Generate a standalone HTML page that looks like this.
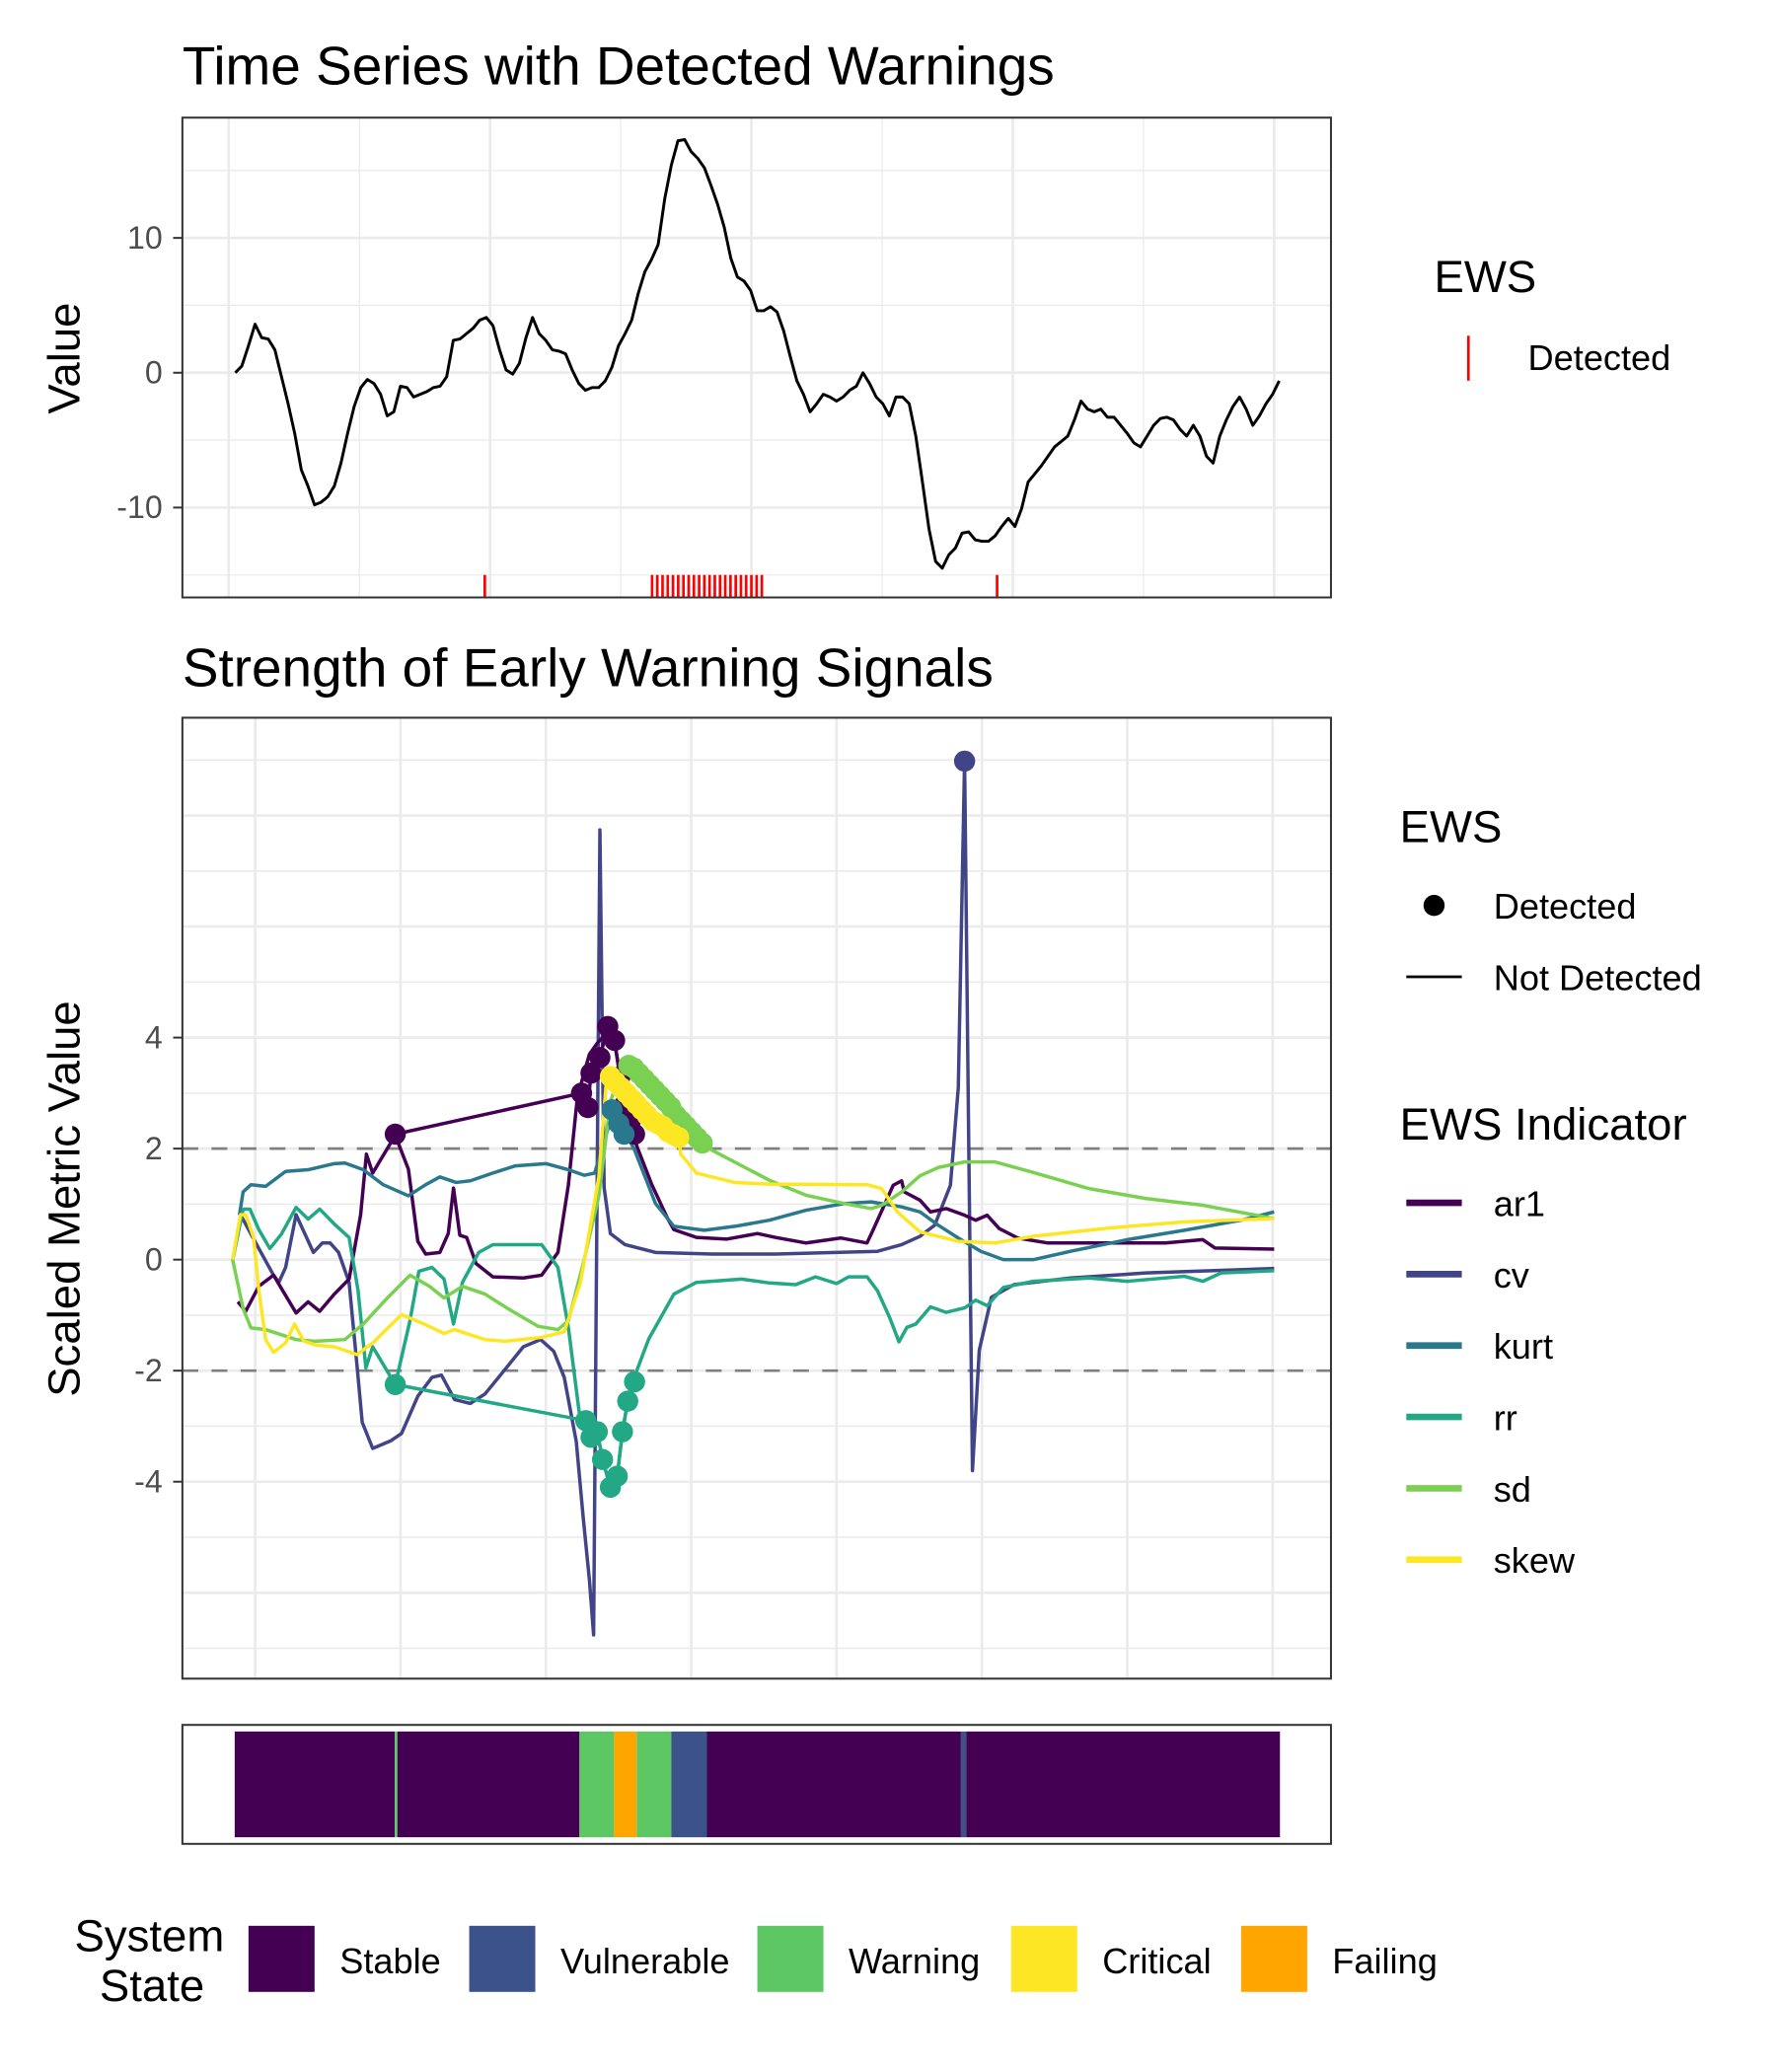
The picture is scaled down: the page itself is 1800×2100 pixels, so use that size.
<!DOCTYPE html>
<html><head><meta charset="utf-8"><style>
html,body{margin:0;padding:0;background:#fff;}
svg{display:block;font-family:"Liberation Sans",Arial,sans-serif;}
</style></head><body>
<svg id="chart" width="1800" height="2100" viewBox="0 0 1343.7 1567.6" preserveAspectRatio="none" xmlns="http://www.w3.org/2000/svg">
<rect x="0" y="0" width="1343.7" height="1567.6" fill="#fff"/>
<text x="138" y="64" font-size="41" fill="#000">Time Series with Detected Warnings</text>
<text x="138" y="519" font-size="41" fill="#000">Strength of Early Warning Signals</text>
<g id="topPanel"></g>
<g id="botPanel"></g>
<g id="stateBar"></g>
<text transform="translate(60,271) rotate(-90)" text-anchor="middle" font-size="34">Value</text>
<text transform="translate(60,907) rotate(-90)" text-anchor="middle" font-size="34">Scaled Metric Value</text>
<g>
<text x="1085" y="221" font-size="34">EWS</text>
<line x1="1111" y1="254" x2="1111" y2="288" stroke="#ff0000" stroke-width="2"/>
<text x="1156" y="280" font-size="27">Detected</text>
</g>
<g>
<text x="1059" y="637" font-size="34">EWS</text>
<circle cx="1085" cy="685" r="8" fill="#000"/>
<text x="1130" y="695" font-size="27">Detected</text>
<line x1="1064" y1="739" x2="1106" y2="739" stroke="#000" stroke-width="2"/>
<text x="1130" y="749" font-size="27">Not Detected</text>
<text x="1059" y="862" font-size="34">EWS Indicator</text>
</g>
<g id="indleg"></g>
<g id="stateleg">
<text font-size="34" text-anchor="middle"><tspan x="113" y="1476">System</tspan><tspan x="115" y="1514">State</tspan></text>
</g>
</svg>
<script>
// ---------- data ----------
const tsValue = [0,0.5,2.0,3.6,2.6,2.5,1.7,-0.3,-2.3,-4.5,-7.2,-8.4,-9.8,-9.6,-9.2,-8.4,-6.7,-4.5,-2.5,-1.1,-0.5,-0.8,-1.6,-3.2,-2.9,-1.0,-1.1,-1.8,-1.6,-1.4,-1.1,-1.0,-0.3,2.4,2.5,2.9,3.3,3.9,4.1,3.5,1.7,0.2,-0.1,0.7,2.6,4.1,2.9,2.4,1.7,1.6,1.4,0.2,-0.8,-1.3,-1.1,-1.1,-0.6,0.4,2.0,2.9,3.9,5.9,7.5,8.4,9.5,12.9,15.4,17.2,17.3,16.4,15.9,15.2,13.9,12.5,10.8,8.5,7.1,6.8,6.1,4.6,4.6,4.9,4.5,3.1,1.2,-0.6,-1.6,-2.9,-2.3,-1.6,-1.8,-2.1,-1.8,-1.3,-1.0,0,-0.8,-1.8,-2.3,-3.2,-1.8,-1.8,-2.3,-4.7,-8.1,-11.6,-14.0,-14.5,-13.5,-13.0,-11.9,-11.8,-12.4,-12.5,-12.5,-12.1,-11.4,-10.8,-11.4,-10.1,-8.1,-7.5,-6.9,-6.2,-5.5,-5.1,-4.7,-3.5,-2.1,-2.7,-2.9,-2.7,-3.3,-3.3,-3.9,-4.5,-5.2,-5.5,-4.7,-3.9,-3.4,-3.3,-3.5,-4.2,-4.7,-3.9,-4.7,-6.2,-6.7,-4.7,-3.5,-2.5,-1.8,-2.7,-3.9,-3.2,-2.3,-1.6,-0.6];
const tsTime = tsValue.map((_, i) => 1.26 + i * 1.264);
const warnTimes = [49,81,82,83,84,85,86,87,88,89,90,91,92,93,94,95,96,97,98,99,100,101,102,147];
const topYTicks = [-10,0,10];
const topYTickLabels = ["-10","0","10"];
const botYTicks = [-4,-2,0,2,4];
const botYTickLabels = ["-4","-2","0","2","4"];

const ar1T = [1.5,3,5.5,8.3,10,12.6,14.9,17.1,19.9,22.7,24.9,26,27.2,31.5,34,35.8,37.3,40,41.6,42.6,43.8,45.1,46.9,50.1,55.9,59.4,62.5,64.5,66.2,67.3,68.5,70,72,73.3,74.6,75.6,76.6,77.6,80.4,83.4,84.6,88.9,94.7,100.5,104,109.8,116.4,121.4,122.4,126.4,128,128.5,131.5,133.5,136.5,140,142.1,144.3,146.6,150.1,155.9,167.5,178.3,185.4,187.7,199];
const ar1V = [-0.76,-0.93,-0.48,-0.28,-0.55,-0.96,-0.76,-0.93,-0.62,-0.35,0.81,1.9,1.56,2.24,1.63,0.33,0.1,0.13,0.47,1.29,0.44,0.4,-0.07,-0.31,-0.33,-0.28,0.13,1.35,2.92,3.3,3.7,3.9,4.1,3.9,3.2,2.6,2.3,2.03,1.35,0.74,0.54,0.4,0.37,0.47,0.4,0.3,0.39,0.3,0.5,1.34,1.42,1.22,1.07,0.86,0.92,0.8,0.71,0.8,0.56,0.39,0.3,0.3,0.3,0.36,0.21,0.19];
const ar1DetT = [31.5,67.0,68.2,68.8,70.5,72.0,73.3,74.3,75.3,76.3,77.1];
const ar1DetV = [2.26,3.0,2.74,3.36,3.64,4.2,3.95,3.29,2.8,2.5,2.26];

const cvT = [2,5.5,8.3,9.3,10.6,12.6,15.9,17.6,19.1,20.7,22.7,24.2,25.2,27.2,30.7,32.7,35.8,38.5,40.3,42.8,45.8,48.6,52.4,55.9,59.2,61.7,63.7,66,67.3,68.5,69.3,70.5,71.3,72.5,75.3,81.1,91.9,104,123.4,128,131.5,134.3,137.3,138.8,140,140.8,141.5,142.8,145.1,149.4,160.2,174.6,199];
const cvV = [0.81,0.2,-0.28,-0.41,-0.14,0.81,0.13,0.3,0.3,0.13,-0.41,-1.9,-2.93,-3.4,-3.26,-3.13,-2.46,-2.12,-2.08,-2.52,-2.59,-2.42,-1.98,-1.57,-1.44,-1.65,-2.12,-3.28,-4.63,-5.77,-6.76,7.74,1.3,0.47,0.27,0.13,0.1,0.1,0.15,0.27,0.42,0.62,1.34,3.1,8.98,2,-3.8,-1.63,-0.68,-0.45,-0.33,-0.24,-0.16];
const cvDetT = [140];
const cvDetV = [8.98];

const kurtT = [1.8,2.5,4,6.8,10.6,14.9,19.9,21.9,25.4,29.2,34,37.3,40,43.1,45.8,50.1,54.4,60.2,64.5,67.5,69.5,71,72.8,74.6,77,81.1,84.6,90.4,96.2,102.8,109.8,117.1,122.2,128,131.5,135,138.8,143.1,147.4,153.1,160.2,171,181.9,192.7,199];
const kurtV = [0.8,1.22,1.35,1.32,1.59,1.62,1.73,1.74,1.62,1.35,1.15,1.35,1.49,1.39,1.42,1.56,1.69,1.73,1.62,1.52,1.56,2.03,2.6,2.4,2.0,1.01,0.6,0.53,0.6,0.71,0.89,1.01,1.04,0.95,0.86,0.62,0.39,0.15,0,0,0.15,0.36,0.53,0.71,0.86];
const kurtDetT = [72.8,74.1,75.1];
const kurtDetV = [2.7,2.45,2.26];

const rrT = [0.5,2.5,3.8,5.5,7.6,9.8,12.6,14.9,17.1,19.9,22.7,24.4,25.9,27.2,31.5,34.3,36,38.5,40.8,42.6,44.3,47.4,50.1,59.4,62.5,64.5,66.8,68.8,70,71,72.5,73.8,74.8,75.8,76.8,79.8,84.6,88.9,97.5,102.8,107.8,111.6,115.6,117.9,121.4,123.4,125.7,127.5,129,130.7,133.5,136.5,140,142.1,144.3,147.4,153.1,163.7,171,181.9,185.4,188.9,199];
const rrV = [-0.01,0.91,0.91,0.54,0.2,0.46,0.94,0.73,0.91,0.64,0.4,-0.55,-1.95,-1.57,-2.25,-1.1,-0.21,-0.14,-0.35,-1.16,-0.41,0.13,0.27,0.27,-0.14,-1.23,-2.93,-3.2,-3.1,-3.6,-4.1,-3.9,-3.1,-2.55,-2.18,-1.43,-0.62,-0.41,-0.35,-0.42,-0.45,-0.31,-0.43,-0.31,-0.31,-0.56,-1.04,-1.48,-1.22,-1.16,-0.85,-0.95,-0.87,-0.73,-0.83,-0.5,-0.39,-0.33,-0.39,-0.3,-0.39,-0.24,-0.2];
const rrDetT = [31.5,67.8,68.8,70,71,72.5,73.8,74.8,75.8,77.1];
const rrDetV = [-2.25,-2.9,-3.2,-3.1,-3.6,-4.1,-3.9,-3.1,-2.55,-2.2];

const sdT = [0.5,2.5,4,6.8,12.6,16.1,21.9,25.4,30,34.3,38,40.8,44.3,48.6,53.1,58.7,62.5,64.5,67.5,70.3,72.5,74.6,76,77,78,79,80,81,82,83,84,85,86,87,88,89,90,91.9,102.8,109.8,117.1,122.2,124.2,128,131.5,135,140,145.8,153.1,163.7,174.6,185.4,199];
const sdV = [0,-0.88,-1.23,-1.26,-1.44,-1.47,-1.44,-1.16,-0.69,-0.28,-0.48,-0.69,-0.48,-0.62,-0.89,-1.2,-1.26,-1.1,0,1.15,2.85,3.4,3.5,3.45,3.35,3.25,3.15,3.05,2.95,2.85,2.75,2.6,2.5,2.4,2.3,2.2,2.1,1.97,1.43,1.16,1.01,0.92,0.98,1.22,1.51,1.66,1.76,1.76,1.57,1.28,1.1,0.98,0.74];
const sdDetT = [76,77,78,79,80,81,82,83,84,85,86,87,88,89,90];
const sdDetV = [3.5,3.45,3.35,3.25,3.15,3.05,2.95,2.85,2.75,2.6,2.5,2.4,2.3,2.2,2.1];

const skewT = [0.5,2,3,4.5,5.5,6.8,8.3,10.6,12.3,14.1,16.4,19.9,24.2,27.2,32.7,37,40.8,42.8,48.6,52.4,59.4,63.7,66.8,70.3,71.8,72.5,73.5,74.5,75.5,76.5,77.5,78.5,79.5,80.5,81.5,82.5,83.5,84.5,85.5,85.9,88.9,96.2,102.8,121.4,124.2,127.2,131.5,138.8,145.8,153.1,167.5,181.9,199];
const skewV = [0,0.81,0.81,0.4,-0.55,-1.44,-1.67,-1.5,-1.16,-1.47,-1.54,-1.57,-1.71,-1.5,-0.99,-1.16,-1.33,-1.26,-1.44,-1.47,-1.4,-1.3,-0.41,1.49,3.3,3.3,3.2,3.1,3.0,2.9,2.8,2.7,2.6,2.5,2.45,2.4,2.3,2.25,2.2,1.9,1.56,1.39,1.36,1.35,1.28,0.86,0.5,0.33,0.3,0.42,0.57,0.68,0.74];
const skewDetT = [72.5,73.5,74.5,75.5,76.5,77.5,78.5,79.5,80.5,81.5,82.5,83.5,84.5,85.5];
const skewDetV = [3.3,3.2,3.1,3.0,2.9,2.8,2.7,2.6,2.5,2.45,2.4,2.3,2.25,2.2];

const segStart = [0.9,31.4,31.9,66.6,73.2,77.5,84.1,90.9,139.3,140.3];
const segEnd   = [31.4,31.9,66.6,73.2,77.5,84.1,90.9,139.3,140.3,200.1];
const segState = ["Stable","Warning","Stable","Warning","Failing","Warning","Vulnerable","Stable","Vulnerable","Stable"];
const stateNames = ["Stable","Vulnerable","Warning","Critical","Failing"];
const indicatorNames = ["ar1","cv","kurt","rr","sd","skew"];

// ---------- styling ----------
const stateColor = {Stable:"#440154",Vulnerable:"#3B528B",Warning:"#5DC863",Critical:"#FDE725",Failing:"#FFA500"};
const indColor = {ar1:"#440154",cv:"#414487",kurt:"#2A788E",rr:"#22A884",sd:"#7AD151",skew:"#FDE725"};
const NS="http://www.w3.org/2000/svg";
function mk(tag, attrs, parent){const e=document.createElementNS(NS,tag);for(const k in attrs)e.setAttribute(k,attrs[k]);parent.appendChild(e);return e;}

const xT = t => 173 + 3.955*t;
const xB = t => 174 + 3.97*t;
const TOPB={x0:138,x1:1007,y0:89,y1:452};
const yTop = v => 282 - 10.2*v;
const BOTB={x0:138,x1:1007,y0:543,y1:1270};
const yBot = v => 953 - 42*v;

// ---------- top panel ----------
const topG=document.getElementById('topPanel');
mk('rect',{x:TOPB.x0,y:TOPB.y0,width:TOPB.x1-TOPB.x0,height:TOPB.y1-TOPB.y0,fill:'#fff'},topG);
[-15,-5,5,15].forEach(v=>{const l=mk('line',{x1:TOPB.x0,x2:TOPB.x1,y1:yTop(v),y2:yTop(v),stroke:'#ebebeb','stroke-width':1},topG);

});
[25,75,125,175].forEach(t=>{const l=mk('line',{x1:xT(t),x2:xT(t),y1:TOPB.y0,y2:TOPB.y1,stroke:'#ebebeb','stroke-width':1},topG);

});
topYTicks.forEach(v=>{const l=mk('line',{x1:TOPB.x0,x2:TOPB.x1,y1:yTop(v),y2:yTop(v),stroke:'#ebebeb','stroke-width':2},topG);

});
[0,50,100,150,200].forEach(t=>{const l=mk('line',{x1:xT(t),x2:xT(t),y1:TOPB.y0,y2:TOPB.y1,stroke:'#ebebeb','stroke-width':2},topG);

});
topYTicks.forEach((v,i)=>{
  const tk=mk('line',{x1:131,x2:TOPB.x0,y1:yTop(v),y2:yTop(v),stroke:'#333','stroke-width':1.5},topG);
  
  
  const tx=mk('text',{x:123,y:yTop(v)+8,'text-anchor':'end','font-size':24,fill:'#4d4d4d'},topG);tx.textContent=topYTickLabels[i];
  
  
});
const tsLine=mk('polyline',{points:tsTime.map((t,i)=>xT(t)+','+yTop(tsValue[i])).join(' '),fill:'none',stroke:'#000','stroke-width':2.2,'stroke-linejoin':'round'},topG);


warnTimes.forEach(t=>{const w=mk('line',{x1:xT(t),x2:xT(t),y1:435,y2:452,stroke:'#ff0000','stroke-width':2},topG);

});
const tf=mk('rect',{x:TOPB.x0,y:TOPB.y0,width:TOPB.x1-TOPB.x0,height:TOPB.y1-TOPB.y0,fill:'none',stroke:'#333','stroke-width':1.5},topG);



// ---------- bottom panel ----------
const botG=document.getElementById('botPanel');
mk('rect',{x:BOTB.x0,y:BOTB.y0,width:BOTB.x1-BOTB.x0,height:BOTB.y1-BOTB.y0,fill:'#fff'},botG);
for(let v=-7;v<=9;v++){const l=mk('line',{x1:BOTB.x0,x2:BOTB.x1,y1:yBot(v),y2:yBot(v),stroke:'#ebebeb','stroke-width':v%2===0?2:1.2},botG);

}
for(let k=0;k<8;k++){const t=4.8+27.7*k;const l=mk('line',{x1:xB(t),x2:xB(t),y1:BOTB.y0,y2:BOTB.y1,stroke:'#ebebeb','stroke-width':2},botG);

}
[2,-2].forEach(v=>{const l=mk('line',{x1:BOTB.x0,x2:BOTB.x1,y1:yBot(v),y2:yBot(v),stroke:'#808080','stroke-width':2,'stroke-dasharray':'12,10'},botG);

});
botYTicks.forEach((v,i)=>{
  const tk=mk('line',{x1:131,x2:BOTB.x0,y1:yBot(v),y2:yBot(v),stroke:'#333','stroke-width':1.5},botG);
  
  
  const tx=mk('text',{x:123,y:yBot(v)+8,'text-anchor':'end','font-size':24,fill:'#4d4d4d'},botG);tx.textContent=botYTickLabels[i];
  
  
});
const series={ar1:[ar1T,ar1V,ar1DetT,ar1DetV],cv:[cvT,cvV,cvDetT,cvDetV],kurt:[kurtT,kurtV,kurtDetT,kurtDetV],rr:[rrT,rrV,rrDetT,rrDetV],sd:[sdT,sdV,sdDetT,sdDetV],skew:[skewT,skewV,skewDetT,skewDetV]};
const order=["cv","ar1","kurt","rr","sd","skew"];
order.forEach(n=>{
  const T=series[n][0], V=series[n][1];
  const p=mk('polyline',{points:T.map((t,i)=>xB(t)+','+yBot(V[i])).join(' '),fill:'none',stroke:indColor[n],'stroke-width':2.6,'stroke-linejoin':'round'},botG);
  
  
});
order.forEach(n=>{
  const DT=series[n][2], DV=series[n][3];
  if(DT.length>1){const p=mk('polyline',{points:DT.map((t,i)=>xB(t)+','+yBot(DV[i])).join(' '),fill:'none',stroke:indColor[n],'stroke-width':2.6},botG);
  
  }
  DT.forEach((t,i)=>{const c=mk('circle',{cx:xB(t),cy:yBot(DV[i]),r:8,fill:indColor[n]},botG);
    
    });
});
const bf=mk('rect',{x:BOTB.x0,y:BOTB.y0,width:BOTB.x1-BOTB.x0,height:BOTB.y1-BOTB.y0,fill:'none',stroke:'#333','stroke-width':1.5},botG);



// ---------- state bar ----------
const stG=document.getElementById('stateBar');
segStart.forEach((s,i)=>{const r=mk('rect',{x:xB(s),y:1310,width:xB(segEnd[i])-xB(s),height:80,fill:stateColor[segState[i]]},stG);
  
  });
const sf=mk('rect',{x:138,y:1305,width:869,height:90,fill:'none',stroke:'#333','stroke-width':1.5},stG);



// ---------- legends ----------
const il=document.getElementById('indleg');
indicatorNames.forEach((n,i)=>{const y=910+54*i;
  const l=mk('line',{x1:1064,x2:1106,y1:y,y2:y,stroke:indColor[n],'stroke-width':5},il);
  
  
  const t=mk('text',{x:1130,y:y+10,'font-size':27},il);t.textContent=n;
  
  });
const sl=document.getElementById('stateleg');
const swX=[188,355,573,765,939];
stateNames.forEach((n,i)=>{
  const r=mk('rect',{x:swX[i],y:1457,width:50,height:50,fill:stateColor[n]},sl);
  
  
  const t=mk('text',{x:swX[i]+69,y:1493,'font-size':27},sl);t.textContent=n;
  
  });
</script>
</body></html>
